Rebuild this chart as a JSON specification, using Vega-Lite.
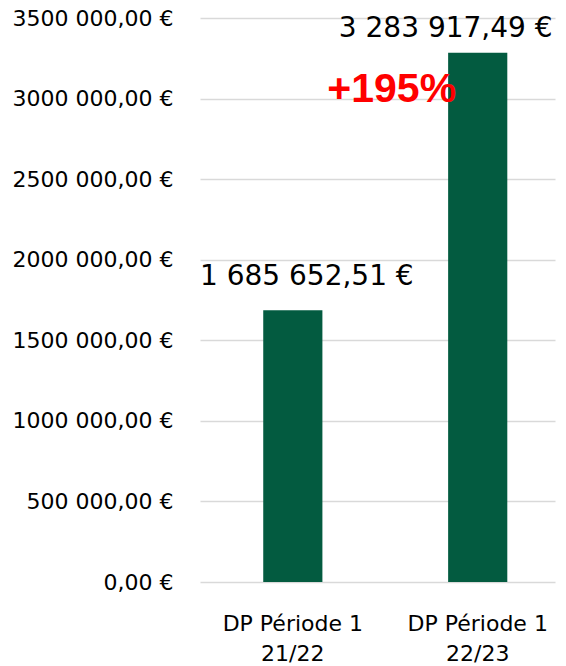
{
  "$schema": "https://vega.github.io/schema/vega-lite/v6.json",
  "autosize": "none",
  "width": 355,
  "height": 564,
  "padding": {"left": 200, "top": 18, "right": 11, "bottom": 84},
  "background": "white",
  "config": {"view": {"stroke": null}, "font": "DejaVu Sans"},
  "data": {"values": [
    {"periode": "DP Période 1|21/22", "montant": 1685652.51, "label": "1 685 652,51 €"},
    {"periode": "DP Période 1|22/23", "montant": 3283917.49, "label": "3 283 917,49 €"}
  ]},
  "encoding": {
    "x": {"field": "periode", "type": "nominal", "sort": null,
      "scale": {"paddingInner": 0.68, "paddingOuter": 0.3, "align": 0.57},
      "axis": {"title": null, "labelAngle": 0, "domain": false, "ticks": false,
        "labelExpr": "split(datum.value, '|')", "labelFont": "DejaVu Sans", "labelFontSize": 22,
        "labelColor": "#000000", "labelPadding": 31, "labelLineHeight": 30}}
  },
  "layer": [
    {
      "mark": {"type": "bar", "color": "#035B40"},
      "encoding": {
        "y": {"field": "montant", "type": "quantitative",
          "scale": {"domain": [0, 3500000], "nice": false},
          "axis": {"title": null, "values": [0, 500000, 1000000, 1500000, 2000000, 2500000, 3000000, 3500000],
            "domain": false, "ticks": false, "labelPadding": 27, "labelOverlap": false,
            "labelFont": "DejaVu Sans", "labelFontSize": 22, "labelColor": "#000000",
            "labelExpr": "datum.value == 0 ? '0,00 €' : floor(datum.value / 1000) + ' 000,00 €'",
            "grid": true, "gridColor": "#D9D9D9", "gridWidth": 1.5}}
      }
    },
    {
      "transform": [{"filter": "datum.montant < 2000000"}],
      "mark": {"type": "text", "font": "DejaVu Sans", "fontSize": 28, "dy": -25, "dx": 14, "baseline": "alphabetic", "color": "#000000"},
      "encoding": {"y": {"field": "montant", "type": "quantitative"}, "text": {"field": "label"}}
    },
    {
      "transform": [{"filter": "datum.montant > 2000000"}],
      "mark": {"type": "text", "font": "DejaVu Sans", "fontSize": 28, "dy": -16, "dx": -32, "baseline": "alphabetic", "color": "#000000"},
      "encoding": {"y": {"field": "montant", "type": "quantitative"}, "text": {"field": "label"}}
    },
    {
      "data": {"values": [{"periode": "DP Période 1|22/23", "niveau": 2980000, "texte": "+195%"}]},
      "mark": {"type": "text", "font": "Liberation Sans", "fontWeight": "bold", "fontSize": 41, "color": "#FF0000", "dx": -86, "baseline": "alphabetic"},
      "encoding": {"y": {"field": "niveau", "type": "quantitative"}, "text": {"field": "texte"}}
    }
  ]
}
